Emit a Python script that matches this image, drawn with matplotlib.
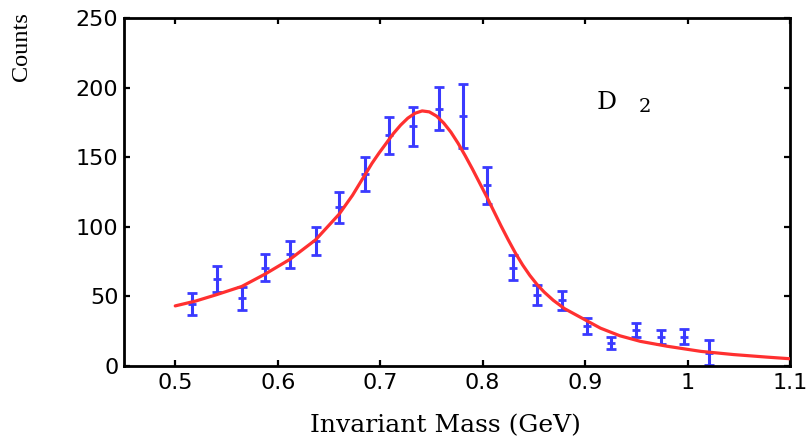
import matplotlib
matplotlib.use('Agg')
import matplotlib.pyplot as plt

# Measured data points (invariant mass in GeV, counts, symmetric error)
mass = [0.5163, 0.5404, 0.5648, 0.5880, 0.6124, 0.6369, 0.6600, 0.6848,
        0.7086, 0.7324, 0.7571, 0.7809, 0.8047, 0.8292, 0.8526, 0.8771,
        0.9015, 0.9250, 0.9494, 0.9739, 0.9970, 1.0214]
counts = [44.3, 62.1, 48.4, 70.4, 80.0, 89.8, 113.8, 137.7,
          165.7, 172.2, 184.9, 179.6, 129.6, 70.4, 50.8, 47.2,
          28.5, 16.1, 25.6, 20.4, 20.8, 9.3]
errors = [7.9, 9.3, 8.4, 9.8, 10.0, 10.0, 11.0, 12.2,
          13.4, 13.9, 15.6, 23.0, 13.4, 8.9, 7.5, 6.8,
          5.6, 4.2, 5.3, 5.0, 5.3, 9.0]

# Fit curve
fit_mass = [0.500, 0.520, 0.540, 0.565, 0.588, 0.612, 0.637, 0.660, 0.673,
            0.685, 0.692, 0.699, 0.706, 0.713, 0.720, 0.727, 0.734, 0.741,
            0.748, 0.755, 0.762, 0.769, 0.776, 0.783, 0.790, 0.797, 0.804,
            0.811, 0.818, 0.825, 0.832, 0.839, 0.846, 0.853, 0.860, 0.869,
            0.880, 0.895, 0.915, 0.934, 0.954, 0.980, 1.013, 1.045, 1.077,
            1.100]
fit_counts = [43.0, 46.5, 51.0, 57.0, 66.0, 76.5, 90.5, 109.0, 122.5,
              137.0, 145.5, 153.0, 160.0, 167.0, 173.0, 178.0, 181.5, 183.2,
              182.5, 179.5, 174.5, 168.0, 160.0, 151.0, 141.5, 131.5, 121.5,
              111.0, 100.5, 90.5, 81.0, 72.5, 65.0, 58.5, 53.0, 47.0,
              41.0, 35.0, 27.0, 21.5, 17.5, 14.0, 10.3, 8.0, 6.2,
              5.0]

xticks = [0.5, 0.6, 0.7, 0.8, 0.9, 1.0, 1.1]
xtick_labels = ['0.5', '0.6', '0.7', '0.8', '0.9', '1', '1.1']
yticks = [0, 50, 100, 150, 200, 250]
ytick_labels = ['0', '50', '100', '150', '200', '250']

fig = plt.figure(figsize=(8.11, 4.37), dpi=100)
ax = fig.add_axes([124 / 811, 1 - 365.7 / 437, (790 - 124) / 811, (365.7 - 18) / 437])

ax.errorbar(mass, counts, yerr=errors, fmt='_', color='#3a3aff', ms=5.5, mew=2.0,
            elinewidth=2.2, capsize=3.8, capthick=2.0, zorder=2)
ax.plot(fit_mass, fit_counts, color='#ff3030', lw=2.3, zorder=3,
        solid_capstyle='round', solid_joinstyle='round')

ax.set_xlim(0.45, 1.1)
ax.set_ylim(0, 250)
ax.set_xticks(xticks)
ax.set_xticklabels(xtick_labels)
ax.set_yticks(yticks)
ax.set_yticklabels(ytick_labels)
ax.tick_params(direction='in', top=True, right=True, length=4, width=1.6,
               labelsize=16, colors='black')
ax.tick_params(axis='x', pad=5)
ax.tick_params(axis='y', pad=4)
for lab in ax.get_xticklabels() + ax.get_yticklabels():
    lab.set_family('DejaVu Sans')
for sp in ax.spines.values():
    sp.set_linewidth(2.0)

ax.text(0.9112, 184.9, 'D', family='DejaVu Serif', fontsize=18,
        ha='left', va='baseline')
ax.text(0.9519, 182.5, '2', family='DejaVu Serif', fontsize=14,
        ha='left', va='baseline')

fig.text(22 / 811, 1 - 47 / 437, 'Counts', family='Liberation Serif',
         fontsize=17.5, rotation=90, ha='center', va='center')
fig.text(445 / 811, 1 - 432 / 437, 'Invariant Mass (GeV)', family='DejaVu Serif',
         fontsize=18, ha='center', va='baseline')

fig.savefig('out.png', dpi=100)
